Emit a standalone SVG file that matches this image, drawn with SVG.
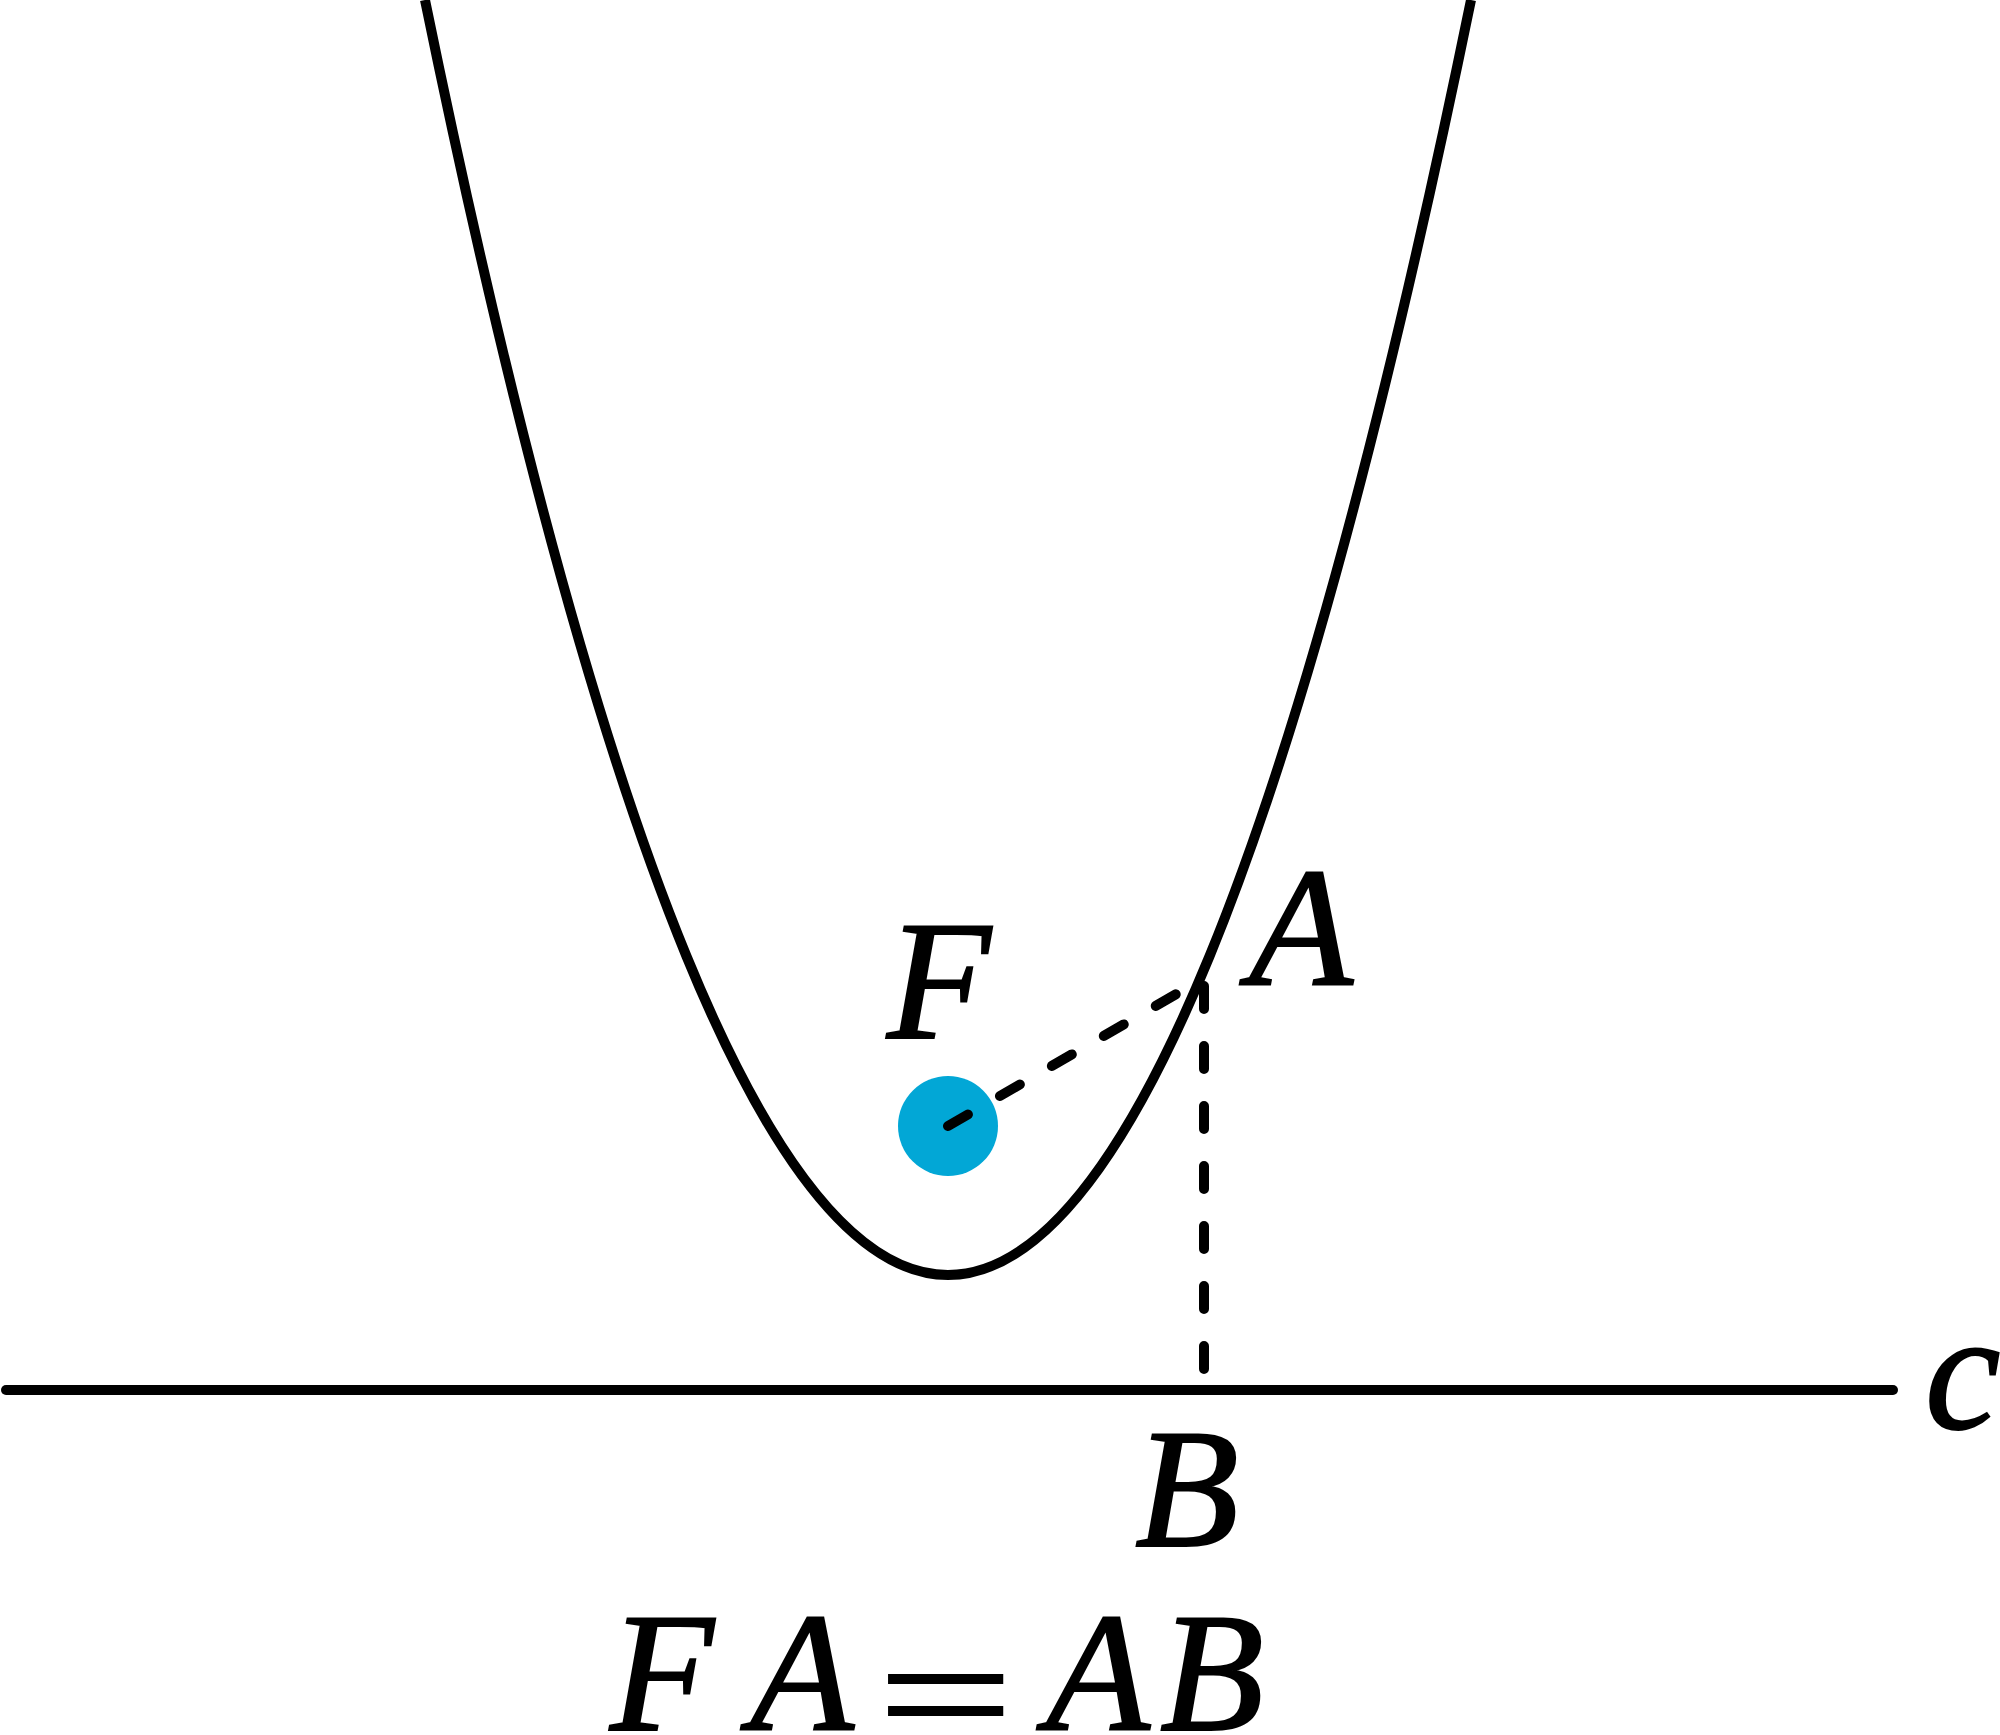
<svg xmlns="http://www.w3.org/2000/svg" width="2000" height="1735" viewBox="0 0 2000 1735">
<style>
.curve{fill:none;stroke:#000;stroke-width:10}
.dir{fill:none;stroke:#000;stroke-width:10;stroke-linecap:round}
.dash{fill:none;stroke:#000;stroke-width:10;stroke-linecap:round;stroke-dasharray:23 37}
.lbl{font-family:"Liberation Serif","Times New Roman",serif;font-style:italic;font-size:170px;fill:#000;stroke:#000;stroke-width:2}
</style>
<rect width="2000" height="1735" fill="#fff"/>
<g id="parabola">
<path class="curve" d="M425,0 Q948,2550 1471,0"/>
</g>
<g id="directrix">
<line class="dir" x1="6" y1="1390" x2="1893" y2="1390"/>
<text class="lbl" x="1925" y="1428">c</text>
</g>
<g id="focus">
<circle cx="948" cy="1126" r="50" fill="#02A7D6" stroke="none"/>
<text class="lbl" x="887" y="1038">F</text>
</g>
<g id="pointA">
<text class="lbl" x="1249" y="985">A</text>
</g>
<g id="pointB">
<text class="lbl" x="1135" y="1546">B</text>
</g>
<g id="connectors">
<line class="dash" x1="948" y1="1126" x2="1204" y2="978"/>
<line class="dash" x1="1204" y1="986" x2="1204" y2="1390"/>
</g>
<g id="equation">
<text class="lbl" x="610" y="1730">F</text>
<text class="lbl" x="750" y="1730">A</text>
<text class="lbl" x="0" y="0" font-style="normal" stroke-width="0" transform="translate(862,1748) scale(1.42,0.95)">=</text>
<text class="lbl" x="1046" y="1730">A</text>
<text class="lbl" x="1160" y="1730">B</text>
</g>
</svg>
